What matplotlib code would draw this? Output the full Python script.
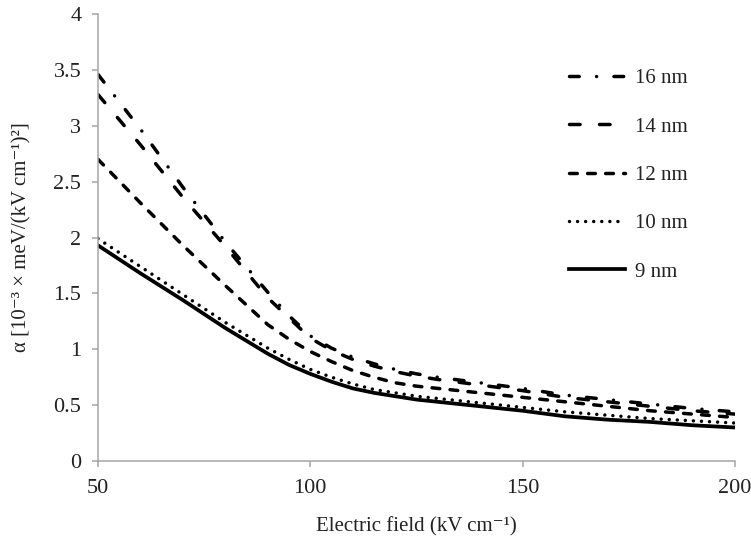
import matplotlib
matplotlib.use('Agg')
import matplotlib.pyplot as plt

plt.rcParams['font.family'] = ['Liberation Serif', 'DejaVu Serif']
plt.rcParams['lines.scale_dashes'] = False

# electric field (kV/cm)
field = [50, 60, 70, 80, 90, 95, 100, 105, 110, 115, 120, 125, 130, 140, 150, 160, 170, 180, 190, 200]

# alpha values, one list per well width
a16 = [3.46, 2.97, 2.45, 1.96, 1.51, 1.30, 1.12, 1.01, 0.93, 0.87, 0.82, 0.78, 0.75, 0.70, 0.65, 0.59, 0.55, 0.51, 0.47, 0.44]
a14 = [3.28, 2.83, 2.36, 1.92, 1.46, 1.28, 1.10, 0.99, 0.91, 0.85, 0.80, 0.76, 0.73, 0.68, 0.63, 0.57, 0.53, 0.49, 0.45, 0.42]
a12 = [2.70, 2.31, 1.93, 1.57, 1.22, 1.09, 0.98, 0.89, 0.81, 0.75, 0.70, 0.67, 0.65, 0.61, 0.57, 0.53, 0.49, 0.45, 0.42, 0.39]
a10 = [1.99, 1.74, 1.49, 1.24, 1.01, 0.91, 0.82, 0.75, 0.69, 0.64, 0.61, 0.58, 0.56, 0.52, 0.48, 0.44, 0.41, 0.38, 0.36, 0.34]
a9 = [1.93, 1.68, 1.44, 1.19, 0.96, 0.86, 0.78, 0.71, 0.65, 0.61, 0.58, 0.55, 0.53, 0.49, 0.45, 0.40, 0.37, 0.35, 0.32, 0.30]

fig = plt.figure(figsize=(7.51, 5.43), dpi=100)
ax = fig.add_axes([0.1305, 0.151, 0.848, 0.823])

lw = 2.5
ax.plot(field, a16, color='black', lw=lw, dash_capstyle='round', dashes=(7.0, 12.5, 0.01, 12.5), label='16 nm')
ax.plot(field, a14, color='black', lw=lw, dash_capstyle='round', dashes=(7.6, 14.0), label='14 nm')
ax.plot(field, a12, color='black', lw=lw, dash_capstyle='round', dashes=(5.6, 7.4), label='12 nm')
ax.plot(field, a10, color='black', lw=lw, dash_capstyle='round', dashes=(0.01, 5.8), label='10 nm')
ax.plot(field, a9, color='black', lw=2.7, label='9 nm')

ax.set_xlim(50, 200)
ax.set_ylim(0, 4)
ax.set_xticks([50, 100, 150, 200])
ax.set_yticks([0, 0.5, 1, 1.5, 2, 2.5, 3, 3.5, 4])
ax.set_yticklabels(['0', '0.5', '1', '1.5', '2', '2.5', '3', '3.5', '4'])

for s in ['top', 'right']:
    ax.spines[s].set_visible(False)
for s in ['left', 'bottom']:
    ax.spines[s].set_color('#a6a6a6')
    ax.spines[s].set_linewidth(1.1)
ax.tick_params(axis='both', direction='out', length=4, width=1.1, color='#a6a6a6',
               labelsize=16, labelcolor='#222222')
ax.tick_params(axis='y', pad=8)
ax.tick_params(axis='x', pad=9)

ax.set_xlabel('Electric field (kV cm\u207b\u00b9)', fontsize=15, color='#222222', labelpad=14)
ax.set_ylabel('\u03b1 [10\u207b\u00b3 \u00d7 meV/(kV cm\u207b\u00b9)\u00b2]', fontsize=15, color='#222222', labelpad=16)

leg = ax.legend(loc='upper left', bbox_to_anchor=(0.739, 0.878), frameon=False, fontsize=15,
                handlelength=2.7, handletextpad=0.48, labelspacing=1.38, borderaxespad=0, borderpad=0)
for t in leg.get_texts():
    t.set_color('#222222')

fig.savefig('out.png', dpi=100)
